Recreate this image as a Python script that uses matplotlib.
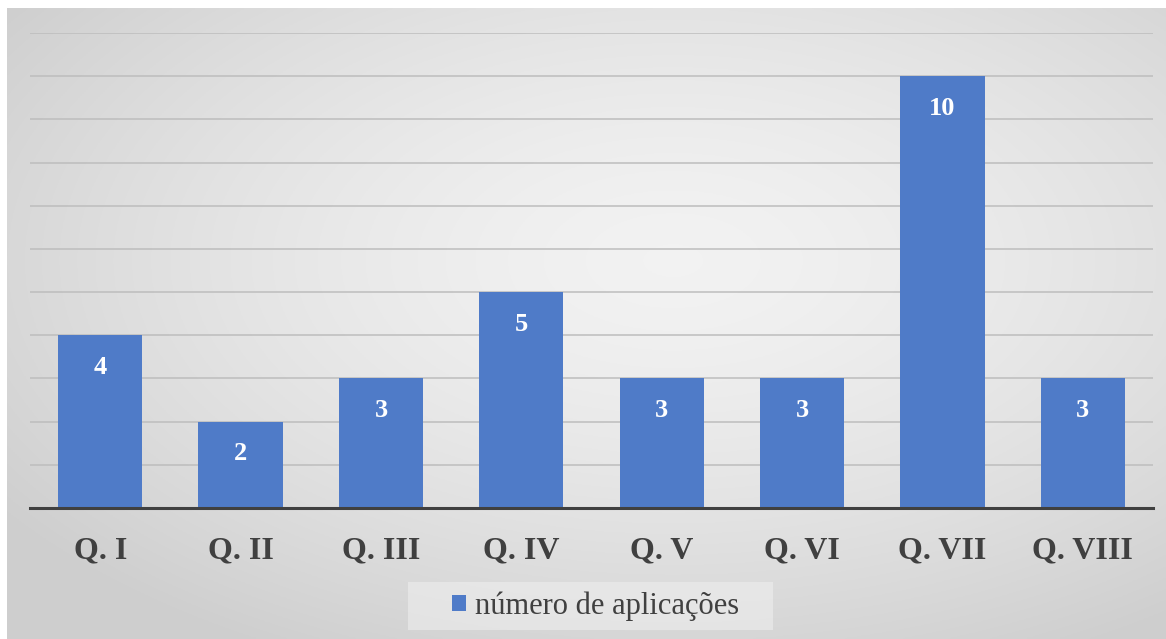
import numpy as np
import matplotlib.pyplot as plt
from matplotlib.patches import Rectangle

# Dados
questoes = ['Q. I', 'Q. II', 'Q. III', 'Q. IV', 'Q. V', 'Q. VI', 'Q. VII', 'Q. VIII']
aplicacoes = [4, 2, 3, 5, 3, 3, 10, 3]
serie = 'número de aplicações'

W, H = 1166, 639
fig = plt.figure(figsize=(W / 100, H / 100), dpi=100)
fig.patch.set_facecolor('white')

# Fundo com gradiente radial (mais claro no centro)
bg = fig.add_axes([7 / W, 0, 1 - 7 / W, 1 - 8 / H])
yy, xx = np.mgrid[-1:1:300j, -1:1:600j]
r = np.sqrt(((xx - 0.15) * 0.85) ** 2 + ((yy - 0.2) * 0.85) ** 2)
r = np.clip(r / 1.2, 0, 1)
g = 0.95 - 0.14 * r ** 1.5
bg.imshow(np.dstack([g, g, g]), aspect='auto', extent=[0, 1, 0, 1], origin='lower')
bg.axis('off')

ax = fig.add_axes([30 / W, (H - 508) / H, (1153 - 30) / W, (508 - 33) / H])
ax.patch.set_alpha(0)

x = np.arange(len(questoes))
barras = ax.bar(x, aplicacoes, width=0.6, color='#4f7bc8', zorder=3, label=serie)

ax.set_xlim(-0.5, len(questoes) - 0.5)
ax.set_ylim(0, 11)
ax.set_yticks(range(0, 12))
ax.yaxis.grid(True, color='#bdbdbd', linewidth=1.1, zorder=0)
ax.tick_params(axis='y', left=False, labelleft=False)
ax.tick_params(axis='x', bottom=False, pad=17)
for s in ['top', 'right', 'left']:
    ax.spines[s].set_visible(False)
ax.spines['bottom'].set_color('#404040')
ax.spines['bottom'].set_linewidth(2.2)
ax.spines['bottom'].set_zorder(4)

ax.set_xticks(x)
ax.set_xticklabels(questoes, fontfamily='Liberation Serif', fontweight='bold',
                   fontsize=23, color='#404040')

for b, v in zip(barras, aplicacoes):
    ax.annotate(str(v), (b.get_x() + b.get_width() / 2, v), xytext=(0, -23),
                textcoords='offset points', ha='center', va='center',
                color='white', fontweight='bold', fontsize=19,
                fontfamily='Liberation Serif', zorder=5)

# Caixa clara atrás da legenda
fig.patches.append(Rectangle((408 / W, (H - 630) / H), 365 / W, 48 / H,
                             transform=fig.transFigure, facecolor='#f0f0f0',
                             edgecolor='none', alpha=0.55, zorder=1))

leg = fig.legend(handles=[barras], labels=[serie], loc='center',
                 bbox_to_anchor=(596 / W, (H - 606) / H), frameon=False,
                 prop={'family': 'Liberation Serif', 'size': 22},
                 handlelength=0.45, handleheight=0.45, handletextpad=0.3,
                 borderpad=0, borderaxespad=0)
for t in leg.get_texts():
    t.set_color('#404040')

fig.savefig('out.png', dpi=100)
